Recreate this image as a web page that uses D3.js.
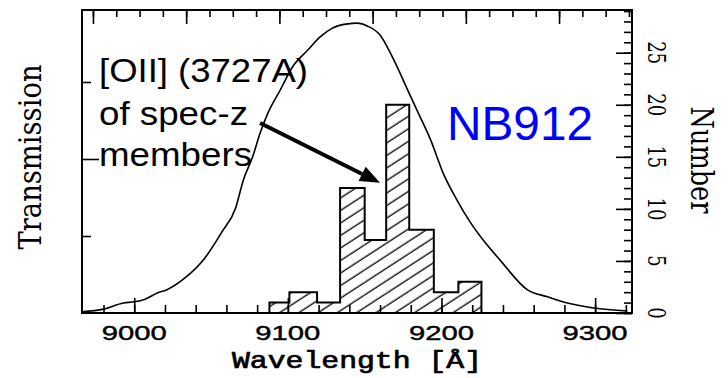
<!DOCTYPE html>
<html>
<head>
<meta charset="utf-8">
<script src="https://cdn.jsdelivr.net/npm/d3@7"></script>
<style>
body { margin: 0; background: #fff; }
svg { display: block; }
</style>
</head>
<body>
<div id="chart"></div>
<script>
// filter transmission curve (wavelength in A, transmission)
var curveWave = [8966, 8980, 8993, 9000, 9007, 9015, 9021, 9033, 9046, 9057, 9066, 9071, 9077, 9082, 9087, 9095,
                 9103, 9113, 9121, 9129, 9139, 9145, 9152, 9160, 9168, 9178, 9184, 9193, 9201, 9210, 9219, 9227,
                 9238, 9256, 9269, 9282, 9299, 9321];
var curveTrans = [0.003, 0.010, 0.026, 0.029, 0.036, 0.052, 0.060, 0.091, 0.143, 0.210, 0.273, 0.345, 0.405, 0.468, 0.519, 0.579,
                  0.639, 0.683, 0.717, 0.740, 0.751, 0.753, 0.745, 0.722, 0.665, 0.579, 0.527, 0.449, 0.364, 0.294, 0.234, 0.190,
                  0.138, 0.060, 0.042, 0.026, 0.013, 0.005];

// histogram of spec-z members
var binEdges = [9088, 9101, 9119, 9134, 9150, 9164, 9179, 9195, 9211, 9226];
var binCounts = [1, 2, 1, 12, 7, 20, 8, 2, 3];

// ticks
var waveMajor = [9000, 9100, 9200, 9300];
var waveMinor = d3.range(8980, 9321, 20);
var numberMajor = [0, 5, 10, 15, 20, 25];
var numberMinor = d3.range(0, 30, 1);
var transMajor = [0.4];
var transMinor = [0.2, 0.6];
var topMajor = [0, 4, 8, 12, 16, 20];
var topMinor = d3.range(0, 24, 1);

var annotationLines = ["[OII] (3727A)", "of spec-z", "members"];
var filterName = "NB912";

var W = 728, H = 378;
var X0 = 82, X1 = 632, Y0 = 10, Y1 = 313;

var svg = d3.select("#chart").append("svg")
    .attr("width", W)
    .attr("height", H);

var x = d3.scaleLinear().domain([8966, 9324]).range([X0, X1]);
var yT = d3.scaleLinear().domain([0, 0.787]).range([Y1, Y0]);
var yN = d3.scaleLinear().domain([0, 29.1]).range([Y1, Y0]);
var xTop = d3.scaleLinear().domain([-0.47, 23.13]).range([X0, X1]);

// hatch pattern
var pat = svg.append("defs").append("pattern")
    .attr("id", "hatch")
    .attr("patternUnits", "userSpaceOnUse")
    .attr("width", 10.5)
    .attr("height", 10.5)
    .attr("patternTransform", "rotate(-33)");
pat.append("line")
    .attr("x1", 0).attr("x2", 10.5)
    .attr("y1", 5).attr("y2", 5)
    .attr("stroke", "#000")
    .attr("stroke-width", 1.3);

var bins = binCounts.map(function(c, i){ return {x0: binEdges[i], x1: binEdges[i + 1], n: c}; });

svg.selectAll("rect.bin")
    .data(bins)
    .enter()
    .append("rect")
    .attr("class", "bin")
    .attr("x", d => x(d.x0))
    .attr("width", d => x(d.x1) - x(d.x0))
    .attr("y", d => yN(d.n))
    .attr("height", d => yN(0) - yN(d.n))
    .attr("fill", "url(#hatch)");

// step outline of the histogram
var outline = [[binEdges[0], 0]];
bins.forEach(function(d){
    outline.push([d.x0, d.n]);
    outline.push([d.x1, d.n]);
});
outline.push([binEdges[binEdges.length - 1], 0]);
svg.append("path")
    .attr("d", d3.line().x(d => x(d[0])).y(d => yN(d[1]))(outline))
    .attr("fill", "none")
    .attr("stroke", "#000")
    .attr("stroke-width", 2)
    .attr("stroke-linejoin", "miter");

// transmission curve
var curvePts = curveWave.map(function(w, i){ return [w, curveTrans[i]]; });
svg.append("path")
    .attr("d", d3.line().curve(d3.curveMonotoneX).x(d => x(d[0])).y(d => yT(d[1]))(curvePts))
    .attr("fill", "none")
    .attr("stroke", "#000")
    .attr("stroke-width", 1.6);

// axes (all ticks point inward)
function noDomain(g){ g.select(".domain").remove(); g.selectAll("line").attr("stroke-width", 1.6); }

svg.append("g").attr("transform", "translate(0," + Y1 + ")")
    .call(d3.axisBottom(x).tickValues(waveMinor).tickSize(-8).tickFormat(""))
    .call(noDomain);
svg.append("g").attr("transform", "translate(0," + Y1 + ")")
    .call(d3.axisBottom(x).tickValues(waveMajor).tickSize(-15).tickFormat(""))
    .call(noDomain);

svg.append("g").attr("transform", "translate(" + X1 + ",0)")
    .call(d3.axisRight(yN).tickValues(numberMinor).tickSize(-8).tickFormat(""))
    .call(noDomain);
svg.append("g").attr("transform", "translate(" + X1 + ",0)")
    .call(d3.axisRight(yN).tickValues(numberMajor).tickSize(-16).tickFormat(""))
    .call(noDomain);

svg.append("g").attr("transform", "translate(" + X0 + ",0)")
    .call(d3.axisLeft(yT).tickValues(transMinor).tickSize(-9).tickFormat(""))
    .call(noDomain);
svg.append("g").attr("transform", "translate(" + X0 + ",0)")
    .call(d3.axisLeft(yT).tickValues(transMajor).tickSize(-17).tickFormat(""))
    .call(noDomain);

svg.append("g").attr("transform", "translate(0," + Y0 + ")")
    .call(d3.axisTop(xTop).tickValues(topMinor).tickSize(-7).tickFormat(""))
    .call(noDomain);
svg.append("g").attr("transform", "translate(0," + Y0 + ")")
    .call(d3.axisTop(xTop).tickValues(topMajor).tickSize(-14).tickFormat(""))
    .call(noDomain);

// frame
svg.append("rect")
    .attr("x", X0).attr("y", Y0)
    .attr("width", X1 - X0).attr("height", Y1 - Y0)
    .attr("fill", "none")
    .attr("stroke", "#000")
    .attr("stroke-width", 2);

// bottom tick labels
svg.selectAll("text.xlab")
    .data(waveMajor)
    .enter()
    .append("text")
    .attr("class", "xlab")
    .attr("x", d => x(d))
    .attr("y", 340)
    .attr("text-anchor", "middle")
    .attr("font-family", "Liberation Sans, Arial, sans-serif")
    .attr("font-size", 20)
    .attr("textLength", 65)
    .attr("lengthAdjust", "spacingAndGlyphs")
    .attr("fill", "#000")
    .attr("stroke", "#000")
    .attr("stroke-width", 0.4)
    .text(d => d);

// right tick labels (rotated)
svg.selectAll("text.ylab")
    .data(numberMajor)
    .enter()
    .append("text")
    .attr("class", "ylab")
    .attr("transform", d => "translate(648," + yN(d) + ") scale(1.3,1) rotate(90)")
    .attr("text-anchor", "middle")
    .attr("font-family", "DejaVu Serif, serif")
    .attr("font-size", 18)
    .attr("fill", "#000")
    .text(d => d);

// axis titles
svg.append("text")
    .attr("x", 357).attr("y", 368)
    .attr("text-anchor", "middle")
    .attr("font-family", "Liberation Mono, monospace")
    .attr("font-size", 24)
    .attr("textLength", 250)
    .attr("lengthAdjust", "spacingAndGlyphs")
    .attr("stroke", "#000")
    .attr("stroke-width", 0.7)
    .text("Wavelength [\u00C5]");

svg.append("text")
    .attr("transform", "translate(41,157) scale(1.25,1) rotate(-90)")
    .attr("text-anchor", "middle")
    .attr("font-family", "DejaVu Serif, serif")
    .attr("font-size", 25)
    .attr("textLength", 185)
    .attr("lengthAdjust", "spacingAndGlyphs")
    .text("Transmission");

svg.append("text")
    .attr("transform", "translate(691,160) scale(1.25,1) rotate(90)")
    .attr("text-anchor", "middle")
    .attr("font-family", "DejaVu Serif, serif")
    .attr("font-size", 25)
    .attr("textLength", 107)
    .attr("lengthAdjust", "spacingAndGlyphs")
    .text("Number");

// annotation
var lineY = [82, 125, 166];
var lineLen = [209, 149, 153];
svg.selectAll("text.note")
    .data(annotationLines)
    .enter()
    .append("text")
    .attr("class", "note")
    .attr("x", 99)
    .attr("y", (d, i) => lineY[i])
    .attr("font-family", "Liberation Sans, Arial, sans-serif")
    .attr("font-size", 33)
    .attr("textLength", (d, i) => lineLen[i])
    .attr("lengthAdjust", "spacingAndGlyphs")
    .attr("fill", "#000")
    .text(d => d);

// arrow, in data coordinates of the histogram
var arrowFrom = [9081.9, 18.25], arrowTo = [9160.0, 12.5];
var ax0 = x(arrowFrom[0]), ay0 = yN(arrowFrom[1]);
var ax1 = x(arrowTo[0]), ay1 = yN(arrowTo[1]);
var ang = Math.atan2(ay1 - ay0, ax1 - ax0);
var headL = 20, headW = 8;
var bx = ax1 - headL * Math.cos(ang), by = ay1 - headL * Math.sin(ang);
svg.append("line")
    .attr("x1", ax0).attr("y1", ay0)
    .attr("x2", bx).attr("y2", by)
    .attr("stroke", "#000")
    .attr("stroke-width", 4);
svg.append("polygon")
    .attr("points", [
        [ax1, ay1],
        [bx + headW * Math.sin(ang), by - headW * Math.cos(ang)],
        [bx - headW * Math.sin(ang), by + headW * Math.cos(ang)]
    ].map(p => p.join(",")).join(" "))
    .attr("fill", "#000");

svg.append("text")
    .attr("x", 447).attr("y", 140)
    .attr("font-family", "Liberation Sans, Arial, sans-serif")
    .attr("font-size", 48)
    .attr("textLength", 146)
    .attr("lengthAdjust", "spacingAndGlyphs")
    .attr("fill", "#0000ff")
    .text(filterName);
</script>
</body>
</html>
